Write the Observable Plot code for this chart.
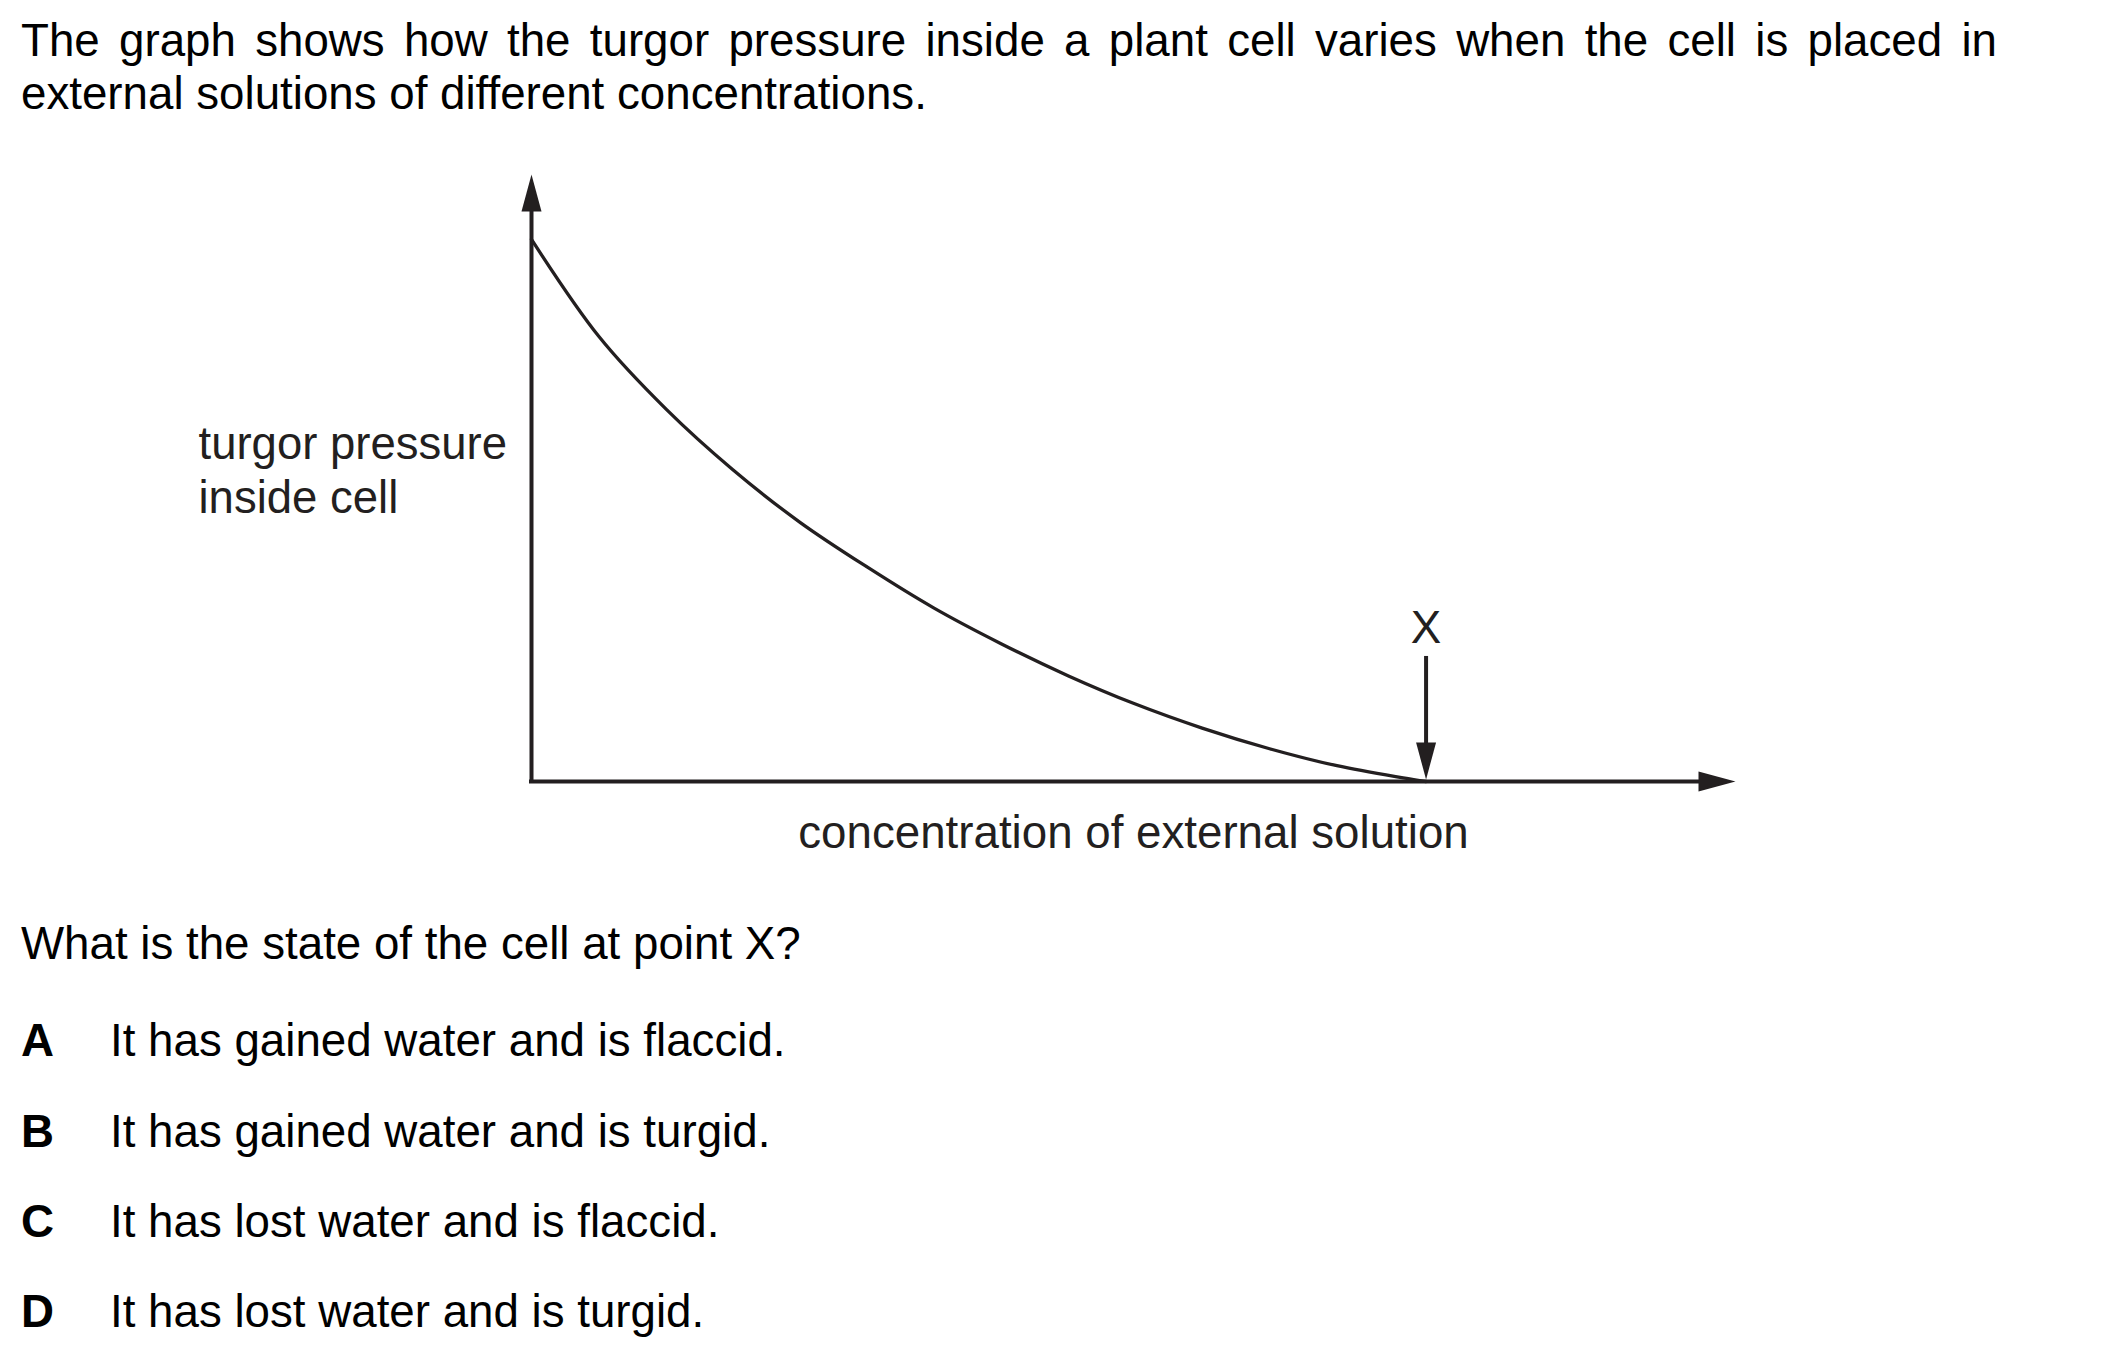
<!DOCTYPE html>
<html>
<head>
<meta charset="utf-8">
<script src="https://cdn.jsdelivr.net/npm/d3@7"></script>
<script src="https://cdn.jsdelivr.net/npm/@observablehq/plot@0.6"></script>
<style>
  html, body { margin: 0; padding: 0; background: #ffffff; }
  body { position: relative; width: 2103px; height: 1351px; overflow: hidden;
         font-family: "Liberation Sans", Arial, sans-serif; color: #000; }
  .t { position: absolute; font-size: 45.7px; line-height: 45px; white-space: nowrap; }
  .just { white-space: normal; text-align: justify; text-align-last: justify; }
  .opt b { position: absolute; left: 0; font-weight: bold; }
  .opt span { position: absolute; left: 89px; }
  #chart { position: absolute; left: 0; top: 0; }
</style>
</head>
<body>
<div class="t just" style="left:21px; top:18px; width:1976px;">The graph shows how the turgor pressure inside a plant cell varies when the cell is placed in</div>
<div class="t" style="left:21px; top:71px;">external solutions of different concentrations.</div>
<div id="chart"></div>
<div class="t" style="left:21px; top:921px;">What is the state of the cell at point X?</div>
<div id="options"></div>
<script>
// ---- data (arbitrary units, axes run 0..100) ----
const concentration = [0, 5.6, 11.2, 16.7, 22.3, 27.9, 33.4, 39.0, 44.6, 50.1, 55.7, 61.3, 66.9, 72.4, 74.3];
const turgorPressure = [89.3, 73.3, 61.3, 51.4, 42.7, 35.3, 28.6, 22.7, 17.4, 12.8, 8.8, 5.4, 2.6, 0.6, 0];
const xMax = 100;
const yMax = 100;
const pointX = 74.3;           // concentration at point X
const xAxisLabel = "concentration of external solution";
const yAxisLabel = "turgor pressure\ninside cell";
const markerLabel = "X";
const optionLetters = ["A", "B", "C", "D"];
const optionTexts = [
  "It has gained water and is flaccid.",
  "It has gained water and is turgid.",
  "It has lost water and is flaccid.",
  "It has lost water and is turgid."
];

const ink = "#231f20";
const curveData = concentration.map((c, i) => ({c, p: turgorPressure[i]}));

function arrowhead(dir) {
  const L = 37, W = 10;
  return {
    draw(ctx) {
      if (dir === "up")   { ctx.moveTo(0, 0); ctx.lineTo(W, L); ctx.lineTo(-W, L); }
      if (dir === "down") { ctx.moveTo(0, 0); ctx.lineTo(W, -L); ctx.lineTo(-W, -L); }
      if (dir === "right"){ ctx.moveTo(0, 0); ctx.lineTo(-L, W); ctx.lineTo(-L, -W); }
      ctx.closePath();
    }
  };
}

const chart = Plot.plot({
  width: 2103,
  height: 900,
  marginLeft: 531,
  marginRight: 368,
  marginTop: 174,
  marginBottom: 119,
  x: {domain: [0, xMax], axis: null},
  y: {domain: [0, yMax], axis: null},
  style: {fontFamily: "'Liberation Sans', Arial, sans-serif", fontSize: "45.7px", color: ink, background: "transparent", overflow: "visible"},
  marks: [
    Plot.ruleY([0], {x1: 0, x2: xMax * 0.97, stroke: ink, strokeWidth: 4, strokeLinecap: "square"}),
    Plot.ruleX([0], {y1: 0, y2: yMax * 0.95, stroke: ink, strokeWidth: 4, strokeLinecap: "square"}),
    Plot.line(curveData, {x: "c", y: "p", curve: "catmull-rom", stroke: ink, strokeWidth: 3.3}),
    Plot.ruleX([pointX], {y1: 20.6, y2: 5, stroke: ink, strokeWidth: 4}),
    Plot.dot([{x: xMax, y: 0}], {x: "x", y: "y", symbol: arrowhead("right"), fill: ink, stroke: null}),
    Plot.dot([{x: 0, y: yMax}], {x: "x", y: "y", symbol: arrowhead("up"), fill: ink, stroke: null}),
    Plot.dot([{x: pointX, y: 0.33}], {x: "x", y: "y", symbol: arrowhead("down"), fill: ink, stroke: null}),
    Plot.text([markerLabel], {x: () => pointX, y: () => 25.2, fill: ink, fontSize: 45.7}),
    Plot.text([xAxisLabel], {frameAnchor: "bottom", lineAnchor: "top", dy: 34, fill: ink, fontSize: 45.7}),
    Plot.text([yAxisLabel], {frameAnchor: "left", textAnchor: "start", dx: -333, dy: -9, lineHeight: 1.18, fill: ink, fontSize: 45.5})
  ]
});
document.getElementById("chart").appendChild(chart);

const tops = [1018, 1109, 1199, 1289];
const opts = document.getElementById("options");
optionLetters.forEach((L, i) => {
  const d = document.createElement("div");
  d.className = "t opt";
  d.style.left = "21px";
  d.style.top = tops[i] + "px";
  d.innerHTML = `<b>${L}</b><span>${optionTexts[i]}</span>`;
  opts.appendChild(d);
});
</script>
</body>
</html>
